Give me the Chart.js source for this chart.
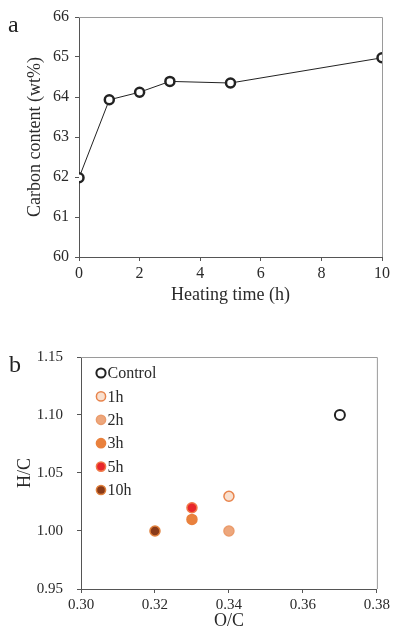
<!DOCTYPE html>
<html>
<head>
<meta charset="utf-8">
<script src="https://cdn.jsdelivr.net/npm/chart.js@4.4.1/dist/chart.umd.min.js"></script>
<style>
    html, body { margin: 0; padding: 0; background: #fff; }
    body { width: 393px; height: 636px; position: relative; overflow: hidden; font-family: "Liberation Serif", serif; }
    .panel { position: absolute; left: 0; width: 393px; }
    #wrap-a { top: 0; height: 310px; }
    #wrap-b { top: 320px; height: 316px; }
    .letter { position: absolute; font-size: 24px; color: #222; line-height: 1; }
</style>
</head>
<body>
<div class="panel" id="wrap-a"><canvas id="chart-a" width="393" height="310"></canvas></div>
<div class="panel" id="wrap-b"><canvas id="chart-b" width="393" height="316"></canvas></div>
<div class="letter" style="left:8px; top:12px;">a</div>
<div class="letter" style="left:9px; top:352px;">b</div>
<script>
// Panel a: carbon content vs heating time
const heatingTimes = [0, 1, 2, 3, 5, 10];
const carbonContent = [61.98, 63.93, 64.12, 64.39, 64.35, 64.98];
const carbonTicks = [60, 61, 62, 63, 64, 65, 66];
const timeTicks = [0, 2, 4, 6, 8, 10];

// Panel b: H/C vs O/C
const sampleNames = ['Control', '1h', '2h', '3h', '5h', '10h'];
const ocRatio = [0.37, 0.34, 0.34, 0.33, 0.33, 0.32];
const hcRatio = [1.10, 1.03, 1.00, 1.01, 1.02, 1.00];
const ocTicks = [0.30, 0.32, 0.34, 0.36, 0.38];
const hcTicks = [0.95, 1.00, 1.05, 1.10, 1.15];

const fillColors = ['#ffffff', '#f9e0cf', '#eda77d', '#e9813d', '#e8262b', '#8a3a18'];
const edgeColors = ['#222222', '#e8844c', '#eb9c6c', '#e9813d', '#f07a4a', '#e0803c'];

const serif = '"Liberation Serif", "Times New Roman", serif';
const axisColor = '#555';
const textColor = '#2a2a2a';

// light box around the plot area
const boxPlugin = {
    id: 'box',
    afterDraw(chart) {
        const a = chart.chartArea;
        const ctx = chart.ctx;
        ctx.save();
        ctx.strokeStyle = '#9a9a9a';
        ctx.lineWidth = 1;
        ctx.beginPath();
        ctx.moveTo(a.left, a.top + 0.5);
        ctx.lineTo(a.right + 0.5, a.top + 0.5);
        ctx.lineTo(a.right + 0.5, a.bottom);
        ctx.stroke();
        ctx.restore();
    }
};

// vertical legend inside the top-left corner of the plot
const insideLegend = {
    id: 'insideLegend',
    afterDraw(chart) {
        const a = chart.chartArea;
        const ctx = chart.ctx;
        ctx.save();
        ctx.font = '16px ' + serif;
        ctx.textBaseline = 'middle';
        chart.data.datasets.forEach((ds, i) => {
            const cx = a.left + 20;
            const cy = a.top + 16 + i * 23.4;
            ctx.beginPath();
            ctx.arc(cx, cy, 4.6, 0, Math.PI * 2);
            ctx.fillStyle = ds.pointBackgroundColor;
            ctx.fill();
            ctx.lineWidth = ds.pointBorderWidth;
            ctx.strokeStyle = ds.pointBorderColor;
            ctx.stroke();
            ctx.fillStyle = textColor;
            ctx.fillText(ds.label, cx + 6.5, cy + 1);
        });
        ctx.restore();
    }
};

function axisGrid() {
    return { display: true, drawOnChartArea: false, drawTicks: true, tickLength: 4, color: axisColor };
}

new Chart(document.getElementById('chart-a'), {
    type: 'line',
    data: {
        datasets: [{
            data: heatingTimes.map((t, i) => ({ x: t, y: carbonContent[i] })),
            borderColor: '#222',
            borderWidth: 1,
            pointRadius: 4.5,
            pointBorderWidth: 2.5,
            pointBackgroundColor: '#fff',
            pointBorderColor: '#222',
            tension: 0
        }]
    },
    options: {
        responsive: false,
        animation: false,
        layout: { padding: { left: 24, right: 11, top: 17, bottom: 0 } },
        plugins: { legend: { display: false }, tooltip: { enabled: false } },
        scales: {
            x: {
                type: 'linear',
                min: 0, max: 10,
                afterBuildTicks: s => { s.ticks = timeTicks.map(v => ({ value: v })); },
                afterFit: s => { s.height = 53; },
                grid: axisGrid(),
                border: { color: axisColor },
                ticks: { color: textColor, font: { family: serif, size: 16 }, padding: 3 },
                title: { display: true, text: 'Heating time (h)', color: textColor, font: { family: serif, size: 18 }, padding: { top: 0 } }
            },
            y: {
                min: 60, max: 66,
                afterBuildTicks: s => { s.ticks = carbonTicks.map(v => ({ value: v })); },
                afterFit: s => { s.width = 55; },
                grid: axisGrid(),
                border: { color: axisColor },
                ticks: { color: textColor, font: { family: serif, size: 16 }, padding: 6 },
                title: { display: true, text: 'Carbon content (wt%)', color: textColor, font: { family: serif, size: 18 }, padding: { top: 0, bottom: 0 } }
            }
        }
    },
    plugins: [boxPlugin]
});

new Chart(document.getElementById('chart-b'), {
    type: 'scatter',
    data: {
        datasets: sampleNames.map((name, i) => ({
            label: name,
            data: [{ x: ocRatio[i], y: hcRatio[i] }],
            pointRadius: 5,
            pointBorderWidth: i === 0 ? 2 : 1.5,
            pointBackgroundColor: fillColors[i],
            pointBorderColor: edgeColors[i]
        }))
    },
    options: {
        responsive: false,
        animation: false,
        layout: { padding: { left: 14, right: 15, top: 37, bottom: 0 } },
        plugins: { legend: { display: false }, tooltip: { enabled: false } },
        scales: {
            x: {
                type: 'linear',
                min: 0.30, max: 0.38,
                afterBuildTicks: s => { s.ticks = ocTicks.map(v => ({ value: v })); },
                afterFit: s => { s.height = 47; },
                grid: axisGrid(),
                border: { color: axisColor },
                ticks: { color: textColor, font: { family: serif, size: 15 }, padding: 3, callback: v => v.toFixed(2) },
                title: { display: true, text: 'O/C', color: textColor, font: { family: serif, size: 18 }, padding: { top: 0 } }
            },
            y: {
                min: 0.95, max: 1.15,
                afterBuildTicks: s => { s.ticks = hcTicks.map(v => ({ value: v })); },
                afterFit: s => { s.width = 67; },
                grid: axisGrid(),
                border: { color: axisColor },
                ticks: { color: textColor, font: { family: serif, size: 15 }, padding: 14, callback: v => v.toFixed(2) },
                title: { display: true, text: 'H/C', color: textColor, font: { family: serif, size: 18 }, padding: { top: 0, bottom: 0 } }
            }
        }
    },
    plugins: [boxPlugin, insideLegend]
});
</script>
</body>
</html>
